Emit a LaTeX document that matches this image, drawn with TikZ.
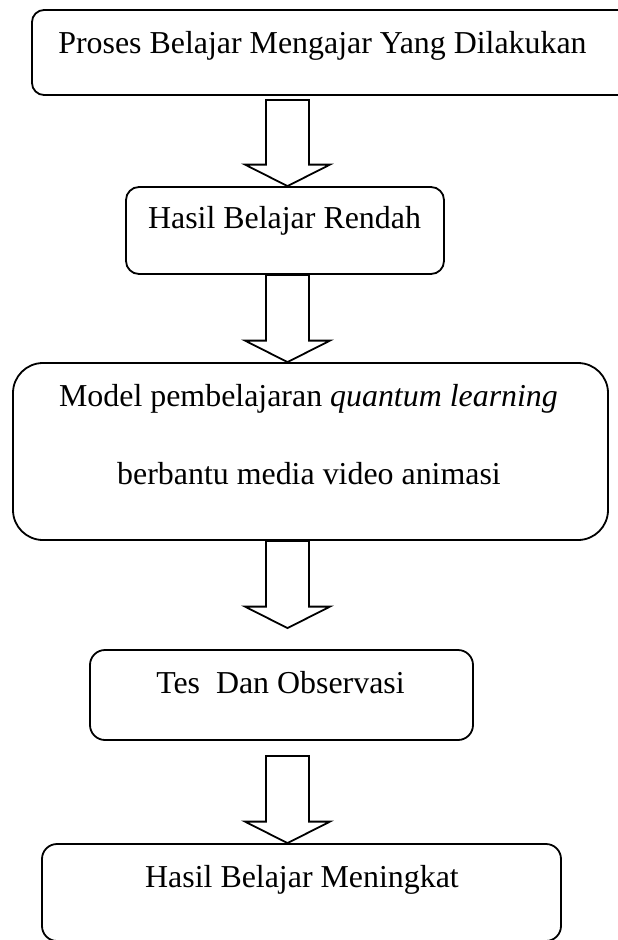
\documentclass[tikz,border=0pt]{standalone}
\usepackage{fontspec}
\setmainfont{Liberation Serif}
\usetikzlibrary{calc}
\tikzset{
  box/.style={draw, line width=1.8pt, rectangle, inner sep=0pt},
  txt/.style={anchor=base, inner sep=0pt, font=\fontsize{31.9}{38}\selectfont},
  barrow/.style={draw, line width=1.8pt, line join=miter},
}
\newcommand\blockarrow[2]{%
  \draw[barrow] let \p1=(#1), \p2=(#2) in
    (\x1-21.5pt,\y1) -- (\x1-21.5pt,\y2+21.5pt) -- (\x1-42.5pt,\y2+21.5pt)
    -- (\x2,\y2) -- (\x1+42.5pt,\y2+21.5pt) -- (\x1+21.5pt,\y2+21.5pt)
    -- (\x1+21.5pt,\y1) -- cycle;}
\begin{document}
\begin{tikzpicture}[x=1pt,y=-1pt]
\useasboundingbox (0,0) rectangle (618,940);
% boxes
\node[box, rounded corners=12pt, minimum width=608pt, minimum height=85pt] (b1) at (336,52.5) {};
\node[box, rounded corners=13pt, minimum width=318pt, minimum height=87pt] (b2) at (285,230.5) {};
\node[box, rounded corners=30pt, minimum width=595pt, minimum height=177pt] (b3) at (310.5,451.5) {};
\node[box, rounded corners=15pt, minimum width=383pt, minimum height=90pt] (b4) at (281.5,695) {};
\node[box, rounded corners=15pt, minimum width=519pt, minimum height=97pt] (b5) at (301.5,892.5) {};
% texts
\node[txt] (t1) at (322.5,53) {Proses Belajar Mengajar Yang Dilakukan};
\node[txt] (t2) at (284.5,228) {Hasil Belajar Rendah};
\node[txt] (t3a) at (308.5,406) {Model pembelajaran \textit{quantum learning}};
\node[txt] (t3b) at (309,484) {berbantu media video animasi};
\node[txt] (t4) at (280.5,693) {Tes\ \ Dan Observasi};
\node[txt] (t5) at (302,887) {Hasil Belajar Meningkat};
% arrow axis and end points
\coordinate (ax) at (287.5,0);
\coordinate (s1) at ($(b1.south -| ax)+(0,4)$);
\coordinate (e1) at (b2.north -| ax);
\coordinate (s2) at (b2.south -| ax);
\coordinate (e2) at (b3.north -| ax);
\coordinate (s3) at (b3.south -| ax);
\coordinate (e3) at ($(b4.north -| ax)+(0,-21)$);
\coordinate (s4) at ($(b4.south -| ax)+(0,15)$);
\coordinate (e4) at (b5.north -| ax);
\blockarrow{s1}{e1}
\blockarrow{s2}{e2}
\blockarrow{s3}{e3}
\blockarrow{s4}{e4}
\end{tikzpicture}
\end{document}
